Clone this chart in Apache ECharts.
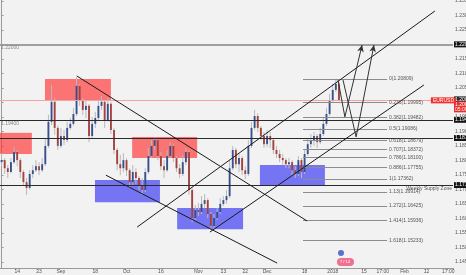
<!DOCTYPE html>
<html><head><meta charset="utf-8">
<script src="https://cdn.jsdelivr.net/npm/echarts@6/dist/echarts.min.js"></script>
<style>html,body{margin:0;padding:0;background:#f2f2f2}#c{width:466px;height:275px}</style>
</head><body><div id="c"></div>
<script>
// ---- data ----
const xTickLabels = ['14','23','Sep','18','Oct','16','Nov','13','22','Dec','18','2018','15','17:00','Feb','12','17:00'];
const xTickIndex  = [5,12,19,30,40,51,63,71,78,85,97,106,116,122,129,136,143];
const slotCount = 145;

const opens = [
1.1794,1.1801,1.1773,1.1760,1.1794,1.1829,1.1801,1.1760,1.1725,1.1705,
1.1753,1.1766,1.1780,1.1766,1.1787,1.1850,1.1933,1.2002,1.1912,1.1850,
1.1884,1.1870,1.1912,1.1926,1.1960,1.2057,1.2008,1.1974,1.1988,1.1884,
1.1926,1.1946,1.1988,1.2002,1.1939,1.1995,1.1905,1.1836,1.1787,1.1773,
1.1801,1.1766,1.1725,1.1760,1.1739,1.1712,1.1698,1.1760,1.1815,1.1850,
1.1870,1.1815,1.1780,1.1766,1.1815,1.1850,1.1808,1.1773,1.1753,1.1794,
1.1829,1.1698,1.1601,1.1629,1.1622,1.1650,1.1663,1.1615,1.1574,1.1601,
1.1622,1.1650,1.1663,1.1677,1.1773,1.1836,1.1787,1.1808,1.1766,1.1753,
1.1850,1.1912,1.1953,1.1912,1.1884,1.1856,1.1884,1.1870,1.1836,1.1822,
1.1808,1.1801,1.1787,1.1794,1.1766,1.1753,1.1801,1.1760,1.1822,1.1856,
1.1870,1.1884,1.1863,1.1891,1.1926,1.1960,1.2008,1.2043,1.2064];
const closes = [
1.1801,1.1773,1.1760,1.1794,1.1829,1.1801,1.1760,1.1725,1.1705,1.1753,
1.1766,1.1780,1.1766,1.1787,1.1850,1.1933,1.2002,1.1912,1.1850,1.1884,
1.1870,1.1912,1.1926,1.1960,1.2057,1.2008,1.1974,1.1988,1.1884,1.1926,
1.1946,1.1988,1.2002,1.1939,1.1995,1.1905,1.1836,1.1787,1.1773,1.1801,
1.1766,1.1725,1.1760,1.1739,1.1712,1.1698,1.1760,1.1815,1.1850,1.1870,
1.1815,1.1780,1.1766,1.1815,1.1850,1.1808,1.1773,1.1753,1.1794,1.1829,
1.1698,1.1601,1.1629,1.1622,1.1650,1.1663,1.1615,1.1574,1.1601,1.1622,
1.1650,1.1663,1.1677,1.1773,1.1836,1.1787,1.1808,1.1766,1.1753,1.1850,
1.1912,1.1953,1.1912,1.1884,1.1856,1.1884,1.1870,1.1836,1.1822,1.1808,
1.1801,1.1787,1.1794,1.1766,1.1753,1.1801,1.1760,1.1822,1.1856,1.1870,
1.1884,1.1863,1.1891,1.1926,1.1960,1.2008,1.2043,1.2064,1.2008];
const highs = [
1.1825,1.1808,1.1784,1.1808,1.1846,1.1836,1.1808,1.1766,1.1739,1.1766,
1.1784,1.1801,1.1794,1.1808,1.1877,1.1957,1.2060,1.2015,1.1919,1.1912,
1.1905,1.1933,1.1946,1.1981,1.2088,1.2064,1.2015,1.2008,1.1995,1.1950,
1.1967,1.2008,1.2022,1.2008,1.2015,1.2002,1.1912,1.1843,1.1819,1.1825,
1.1808,1.1773,1.1784,1.1773,1.1746,1.1739,1.1773,1.1843,1.1870,1.1881,
1.1877,1.1829,1.1801,1.1836,1.1863,1.1856,1.1815,1.1787,1.1819,1.1843,
1.1836,1.1705,1.1646,1.1653,1.1677,1.1684,1.1670,1.1622,1.1615,1.1636,
1.1670,1.1677,1.1698,1.1801,1.1850,1.1843,1.1822,1.1815,1.1780,1.1870,
1.1933,1.1974,1.1963,1.1919,1.1898,1.1905,1.1898,1.1877,1.1850,1.1836,
1.1822,1.1808,1.1808,1.1801,1.1780,1.1815,1.1808,1.1836,1.1877,1.1891,
1.1898,1.1891,1.1912,1.1946,1.1981,1.2029,1.2064,1.2081,1.2071];
const lows = [
1.1780,1.1753,1.1739,1.1755,1.1788,1.1780,1.1739,1.1712,1.1681,1.1698,
1.1739,1.1760,1.1749,1.1760,1.1780,1.1843,1.1922,1.1888,1.1836,1.1843,
1.1853,1.1863,1.1905,1.1919,1.1953,1.1988,1.1957,1.1946,1.1863,1.1877,
1.1912,1.1939,1.1974,1.1912,1.1933,1.1891,1.1822,1.1766,1.1749,1.1760,
1.1746,1.1705,1.1715,1.1718,1.1698,1.1681,1.1691,1.1753,1.1808,1.1836,
1.1801,1.1766,1.1739,1.1760,1.1808,1.1794,1.1760,1.1739,1.1746,1.1784,
1.1681,1.1587,1.1594,1.1608,1.1615,1.1636,1.1601,1.1560,1.1563,1.1594,
1.1615,1.1643,1.1650,1.1670,1.1766,1.1773,1.1760,1.1749,1.1736,1.1746,
1.1843,1.1905,1.1898,1.1870,1.1843,1.1846,1.1843,1.1822,1.1808,1.1794,
1.1784,1.1773,1.1773,1.1749,1.1739,1.1746,1.1739,1.1753,1.1815,1.1843,
1.1850,1.1843,1.1856,1.1884,1.1919,1.1953,1.2001,1.2036,1.2005];

// zones: [startSlot, endSlot, upperPrice, lowerPrice]
const supplyZones = [[13.9,35.0,1.2081,1.2005],[-0.5,9.7,1.1895,1.1822],[41.8,62.6,1.1881,1.1808]];
const demandZones = [[29.9,50.7,1.1732,1.1656],[56.2,77.3,1.1636,1.1563],[82.7,103.5,1.1784,1.1712]];
// trend lines: [slot1, price1, slot2, price2]
const trendLines = [[24.1,1.2091,97.8,1.1591],[33.4,1.1749,88.2,1.1446],[43.4,1.1570,138.7,1.2315],[66.7,1.1553,135.2,1.2060]];
// projected paths
const projA = [[107.7,1.2077],[109.9,1.1950],[115.4,1.2198]];
const projB = [[109.3,1.2077],[113.5,1.1881],[119.2,1.2198]];
// fibonacci
const fibRatios = ['0','0.236','0.382','0.5','0.618','0.707','0.786','0.886','1','1.13','1.272','1.414','1.618'];
const fibPrices = [1.20809,1.19995,1.19482,1.19086,1.18679,1.18372,1.18100,1.17755,1.17362,1.16914,1.16425,1.15936,1.15233];
const fibFrom = 96.5, fibTo = 123.4;
// horizontal levels
const keyLevel = 1.22000;
const levels = [1.19400, 1.18773, 1.17150];
const lastPrice = 1.2007;

// ---- build ----
const categories = new Array(slotCount).fill('');
xTickIndex.forEach((ix, k) => categories[ix] = xTickLabels[k]);
const candles = opens.map((o, i) => [i, o, closes[i], lows[i], highs[i]]);

const tiny = {fontSize:5, fontFamily:'Arial, Liberation Sans, sans-serif'};
const blackTag = t => ({show:true, position:'end', distance:1, formatter:t, color:'#fff', backgroundColor:'#151515', padding:[1,1,0,1], ...tiny});
const solid = (c, w) => ({color:c, width:w, type:'solid'});

const mlData = [];
mlData.push({yAxis:keyLevel, lineStyle:solid('#9a9a9a', 1.6), label:blackTag(keyLevel.toFixed(5))});
mlData.push({yAxis:keyLevel, lineStyle:solid('#9a9a9a', 1.6), label:{show:true, position:'insideStartBottom', distance:1, formatter:keyLevel.toFixed(5), color:'#888', ...tiny}});
levels.forEach(p => mlData.push({yAxis:p, lineStyle:solid('#2a2a2a', 1), label:blackTag(p.toFixed(5))}));
mlData.push({yAxis:levels[0], lineStyle:solid('#2a2a2a', 1), label:{show:true, position:'insideStartBottom', distance:1, formatter:levels[0].toFixed(5), color:'#888', ...tiny}});
mlData.push({yAxis:levels[2], lineStyle:solid('#2a2a2a', 1), label:{show:true, position:'insideEndBottom', distance:1, formatter:'Weekly Supply Zone', color:'#555', ...tiny}});
mlData.push({yAxis:lastPrice, lineStyle:solid('#f3a3a3', 1), label:{show:true, position:'end', distance:1, formatter:'1.20042', color:'#fff', backgroundColor:'#2b2b2b', padding:[1,1,0,1], offset:[0,-1], ...tiny}});
mlData.push({yAxis:lastPrice, lineStyle:solid('#f3a3a3', 1), label:{show:true, position:'end', distance:1, formatter:'1.20078', color:'#fff', backgroundColor:'#e8312f', padding:[1,1,0,1], offset:[0,4], ...tiny}});
mlData.push({yAxis:lastPrice, lineStyle:solid('#f3a3a3', 1), label:{show:true, position:'end', distance:1, formatter:'05:09:57', color:'#fff', backgroundColor:'#e8312f', padding:[1,1,0,1], offset:[0,9], ...tiny}});
mlData.push({yAxis:lastPrice, lineStyle:solid('#f3a3a3', 1), label:{show:true, position:'insideEndTop', distance:-3, formatter:'EURUSD', color:'#fff', backgroundColor:'#f0302c', padding:[1,2,0,2], ...tiny}});

fibPrices.forEach((p, k) => mlData.push([
  {coord:[fibFrom, p], lineStyle:solid('#8c8c8c', 1),
   label:{show:true, position:'end', distance:2, formatter:fibRatios[k] + '(' + p.toFixed(5) + ')', color:'#555', ...tiny}},
  {coord:[fibTo, p]}]));
trendLines.forEach(t => mlData.push([{coord:[t[0], t[1]], lineStyle:solid('#1a1a1a', 1)}, {coord:[t[2], t[3]]}]));
[projA, projB].forEach(path => {
  mlData.push([{coord:path[0], lineStyle:solid('#333', 1)}, {coord:path[1]}]);
  mlData.push([{coord:path[1], symbol:'none', lineStyle:solid('#333', 1)}, {coord:path[2], symbol:'arrow', symbolSize:[5,7]}]);
});

const maData = [];
supplyZones.forEach(z => maData.push([{coord:[z[0], z[2]], itemStyle:{color:'rgba(255,55,55,0.68)'}}, {coord:[z[1], z[3]]}]));
demandZones.forEach(z => maData.push([{coord:[z[0], z[2]], itemStyle:{color:'rgba(40,40,245,0.62)'}}, {coord:[z[1], z[3]]}]));

const chart = echarts.init(document.getElementById('c'), null, {renderer:'canvas'});
chart.setOption({
  backgroundColor:'#f2f2f2',
  animation:false,
  grid:{left:0, right:13, top:0, bottom:7, containLabel:false, outerBoundsMode:'none'},
  xAxis:[
    {type:'category', data:categories, boundaryGap:true,
     axisLine:{lineStyle:{color:'#9a9a9a'}},
     axisTick:{show:true, length:2, interval:(i, v) => v !== '', lineStyle:{color:'#9a9a9a'}},
     axisLabel:{interval:0, margin:1, color:'#555', ...tiny},
     splitLine:{show:false}},
    {type:'value', min:-0.5, max:slotCount - 0.5, show:false, splitLine:{show:false}}
  ],
  yAxis:{type:'value', position:'right', min:1.1429, max:1.2353, splitNumber:18, scale:true,
    axisLine:{show:true, lineStyle:{color:'#9a9a9a'}},
    axisTick:{show:true, length:2, lineStyle:{color:'#9a9a9a'}},
    splitLine:{show:false},
    axisLabel:{margin:2, color:'#555', showMinLabel:false, showMaxLabel:false, formatter:v => v.toFixed(5), ...tiny}},
  series:[
    {type:'line', xAxisIndex:1, data:[], silent:true,
     markArea:{silent:true, data:maData},
     markLine:{silent:true, precision:6, symbol:['none','none'], label:{show:false}, data:mlData}},
    {type:'custom', xAxisIndex:1, data:candles, silent:true, encode:{x:0, y:[1,2,3,4]},
     renderItem:(params, api) => {
       const x = api.value(0), o = api.value(1), c = api.value(2), l = api.value(3), h = api.value(4);
       const po = api.coord([x, o]), pc = api.coord([x, c]), pl = api.coord([x, l]), ph = api.coord([x, h]);
       const w = api.size([1, 0])[0] * 0.6;
       const top = Math.min(po[1], pc[1]), bot = Math.max(po[1], pc[1]);
       return {type:'group', children:[
         {type:'line', shape:{x1:ph[0], y1:ph[1], x2:pl[0], y2:pl[1]}, style:{stroke:'#b9b9b9', lineWidth:1}},
         {type:'rect', shape:{x:po[0] - w/2, y:top, width:w, height:Math.max(bot - top, 1)}, style:{fill: c >= o ? '#36508e' : '#a3423d'}}
       ]};
     }}
  ],
  graphic:[
    {type:'circle', shape:{cx:341, cy:253, r:3}, style:{fill:'#5a6fd0'}},
    {type:'rect', shape:{x:337, y:258, width:17, height:8, r:4}, style:{fill:'#f07090'}},
    {type:'text', style:{x:345, y:262, text:'7 / 14', fill:'#fff', fontSize:4, align:'center', verticalAlign:'middle'}}
  ]
});
</script></body></html>
